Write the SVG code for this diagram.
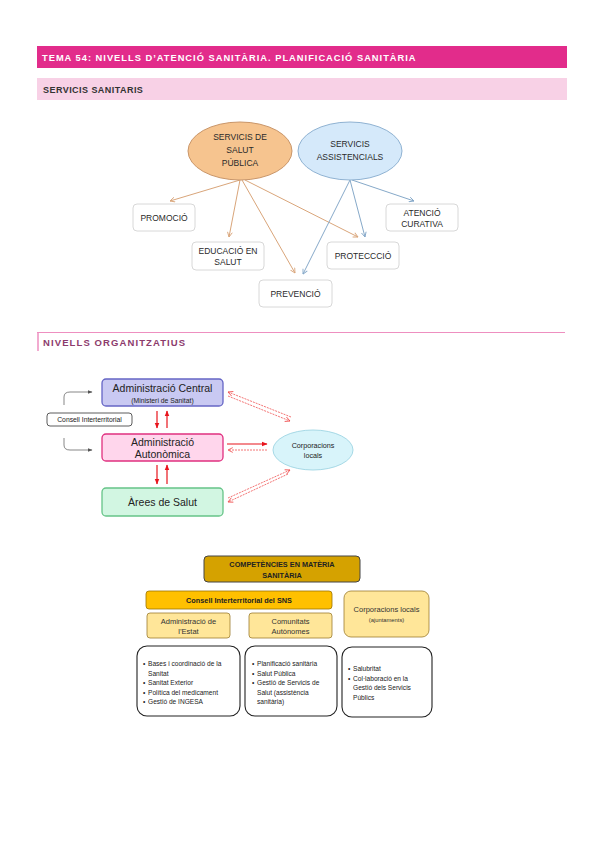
<svg xmlns="http://www.w3.org/2000/svg" width="599" height="848" viewBox="0 0 599 848">
<style>
text{font-family:"Liberation Sans","DejaVu Sans",sans-serif;}
.h1{font-size:9.3px;font-weight:bold;fill:#fff;letter-spacing:1px;}
.h2{font-size:9px;font-weight:bold;fill:#333;letter-spacing:0.45px;}
.h3{font-size:9.5px;fill:#8c3b6c;letter-spacing:1.1px;font-weight:bold;}
.lbl{font-size:8.5px;fill:#2a2a2a;text-anchor:middle;}
.box{fill:#fff;stroke:#d8d8d8;stroke-width:1;}
.oa{stroke:#d9a57a;stroke-width:1;fill:none;marker-end:url(#mo);}
.ba{stroke:#86a9c9;stroke-width:1;fill:none;marker-end:url(#mb);}
.t2{font-size:10.5px;fill:#222;text-anchor:middle;}
.ra{stroke:#e8141c;stroke-width:1.2;fill:none;marker-end:url(#mr);}
.rd{stroke:#f05050;stroke-width:0.8;stroke-dasharray:2 1;fill:none;marker-end:url(#mr2);}
.gc{stroke:#555;stroke-width:0.7;fill:none;marker-end:url(#mg);}
.t3{font-size:6.6px;fill:#222;}
.tb{font-size:7.3px;font-weight:bold;fill:#222;text-anchor:middle;}
.tc{font-size:7.5px;fill:#333;text-anchor:middle;}
.wb{fill:#fff;stroke:#222;stroke-width:1.1;}
</style>
<defs>
<marker id="mo" viewBox="0 0 10 10" refX="9" refY="5" markerWidth="6" markerHeight="6" orient="auto" markerUnits="userSpaceOnUse"><path d="M1,1 L9,5 L1,9" fill="none" stroke="#d9a57a" stroke-width="1.5"/></marker>
<marker id="mb" viewBox="0 0 10 10" refX="9" refY="5" markerWidth="6" markerHeight="6" orient="auto" markerUnits="userSpaceOnUse"><path d="M1,1 L9,5 L1,9" fill="none" stroke="#86a9c9" stroke-width="1.5"/></marker>
<marker id="mr" viewBox="0 0 10 10" refX="9" refY="5" markerWidth="6" markerHeight="6" orient="auto" markerUnits="userSpaceOnUse"><path d="M0,1 L10,5 L0,9 z" fill="#e8141c"/></marker>
<marker id="mr2" viewBox="0 0 10 10" refX="9" refY="5" markerWidth="6" markerHeight="6" orient="auto" markerUnits="userSpaceOnUse"><path d="M1,1 L9,5 L1,9" fill="none" stroke="#f05050" stroke-width="1.4"/></marker>
<marker id="mg" viewBox="0 0 10 10" refX="9" refY="5" markerWidth="5" markerHeight="5" orient="auto" markerUnits="userSpaceOnUse"><path d="M0,1 L10,5 L0,9 z" fill="#555"/></marker>
</defs>
<rect width="599" height="848" fill="#fff"/>

<!-- headers -->
<g id="header1">
<rect x="37" y="46" width="530" height="22" fill="#e22c8b"/>
<text class="h1" x="42" y="60.5">TEMA 54: NIVELLS D’ATENCIÓ SANITÀRIA. PLANIFICACIÓ SANITÀRIA</text>
</g>
<g id="header2">
<rect x="37" y="78" width="530" height="22" fill="#f8d1e6"/>
<text class="h2" x="43" y="92.5">SERVICIS SANITARIS</text>
</g>

<!-- diagram 1 -->
<g id="connectors1">
<line class="oa" x1="240" y1="180" x2="170" y2="201"/>
<line class="oa" x1="240" y1="180" x2="229" y2="237"/>
<line class="oa" x1="242" y1="180" x2="295" y2="273"/>
<line class="oa" x1="245" y1="180" x2="358" y2="237"/>
<line class="ba" x1="350" y1="180" x2="303" y2="274"/>
<line class="ba" x1="350" y1="180" x2="365" y2="237"/>
<line class="ba" x1="352" y1="180" x2="414" y2="201"/>
</g>
<g id="salut-publica">
<ellipse cx="240" cy="151" rx="52" ry="29" fill="#f6c48f" stroke="#c9966a" stroke-width="1"/>
<text class="lbl" x="240" y="140">SERVICIS DE</text>
<text class="lbl" x="240" y="153">SALUT</text>
<text class="lbl" x="240" y="166">PÚBLICA</text>
</g>
<g id="assistencials">
<ellipse cx="350" cy="151" rx="52" ry="29" fill="#d5e9fa" stroke="#8fb2d2" stroke-width="1"/>
<text class="lbl" x="350" y="147">SERVICIS</text>
<text class="lbl" x="350" y="160">ASSISTENCIALS</text>
</g>
<g id="promocio"><rect class="box" x="133" y="204" width="62" height="27" rx="4"/><text class="lbl" x="164" y="220.5">PROMOCIÓ</text></g>
<g id="educacio"><rect class="box" x="192" y="242" width="72" height="28" rx="4"/><text class="lbl" x="228" y="253.5">EDUCACIÓ EN</text><text class="lbl" x="228" y="265">SALUT</text></g>
<g id="prevencio"><rect class="box" x="259" y="280" width="73" height="27" rx="4"/><text class="lbl" x="295.5" y="296.5">PREVENCIÓ</text></g>
<g id="proteccio"><rect class="box" x="327" y="242" width="72" height="27" rx="4"/><text class="lbl" x="363" y="258.5">PROTECCCIÓ</text></g>
<g id="atencio"><rect class="box" x="386" y="204" width="72" height="27" rx="4"/><text class="lbl" x="422" y="215.5">ATENCIÓ</text><text class="lbl" x="422" y="227">CURATIVA</text></g>

<!-- section 2 header -->
<g id="header3">
<line x1="37" y1="332.5" x2="565" y2="332.5" stroke="#ee8fc0" stroke-width="1.2"/>
<line x1="38" y1="332" x2="38" y2="351" stroke="#ee8fc0" stroke-width="1.5"/>
<text class="h3" x="43" y="346">NIVELLS ORGANITZATIUS</text>
</g>

<g id="connectors2">
<line class="ra" x1="157" y1="411" x2="157" y2="428"/>
<line class="ra" x1="167" y1="428" x2="167" y2="411"/>
<line class="ra" x1="157" y1="465" x2="157" y2="484"/>
<line class="ra" x1="167" y1="484" x2="167" y2="465"/>
<line class="rd" x1="228" y1="396" x2="290" y2="421"/>
<line class="rd" x1="291" y1="417" x2="228" y2="392"/>
<line class="ra" x1="227" y1="444" x2="267" y2="444" stroke-width="1"/>
<line class="rd" x1="267" y1="450" x2="228" y2="450" stroke-dasharray="none" stroke="#f8a0a0"/>
<line class="rd" x1="228" y1="498" x2="290" y2="470"/>
<line class="rd" x1="288" y1="474" x2="228" y2="502"/>
<path class="gc" d="M64,405 L64,397 Q64,392 70,392 L92,392"/>
<path class="gc" d="M64,438 L64,445 Q64,450 70,450 L92,450"/>
</g>
<g id="admin-central">
<rect x="102" y="379" width="121" height="27" rx="4" fill="#c9c9f2" stroke="#6565c5" stroke-width="1.3"/>
<text class="t2" x="162.5" y="392">Administració Central</text>
<text x="162.5" y="402.5" font-size="6.8" fill="#222" text-anchor="middle">(Ministeri de Sanitat)</text>
</g>
<g id="admin-autonomica">
<rect x="102" y="434" width="121" height="27" rx="4" fill="#ffd6ec" stroke="#e0307f" stroke-width="1.3"/>
<text class="t2" x="162.5" y="445.5">Administració</text>
<text class="t2" x="162.5" y="458">Autonòmica</text>
</g>
<g id="arees-salut">
<rect x="102" y="488" width="121" height="28" rx="4" fill="#d2f6e2" stroke="#66c488" stroke-width="1.3"/>
<text class="t2" x="162.5" y="506" font-size="11">Àrees de Salut</text>
</g>
<g id="consell">
<rect x="47" y="413" width="85" height="13" rx="3" fill="#fff" stroke="#333" stroke-width="0.8"/>
<text x="89.5" y="422" font-size="6.8" fill="#222" text-anchor="middle">Consell Interterritorial</text>
</g>
<g id="corporacions">
<ellipse cx="313" cy="450" rx="40" ry="20" fill="#d8f4fa" stroke="#a6d9e6" stroke-width="1"/>
<text x="313" y="447.5" font-size="7.2" fill="#222" text-anchor="middle">Corporacions</text>
<text x="313" y="457.5" font-size="7.2" fill="#222" text-anchor="middle">locals</text>
</g>

<!-- section 3 -->
<g id="competencies">
<rect x="204" y="556" width="156" height="26" rx="4" fill="#d5a200" stroke="#444" stroke-width="1"/>
<text class="tb" x="282" y="567">COMPETÈNCIES EN MATÈRIA</text>
<text class="tb" x="282" y="578">SANITÀRIA</text>
</g>
<g id="consell-sns">
<rect x="146" y="591" width="186" height="18" rx="3" fill="#ffc000" stroke="#9c7400" stroke-width="0.8"/>
<text class="tb" x="239" y="603">Consell Interterritorial del SNS</text>
</g>
<g id="estat">
<rect x="147" y="613" width="83" height="25" rx="3" fill="#ffe699" stroke="#9c7c30" stroke-width="0.8"/>
<text class="tc" x="188.5" y="623.5">Administració de</text>
<text class="tc" x="188.5" y="634">l’Estat</text>
</g>
<g id="comunitats">
<rect x="249" y="613" width="83" height="25" rx="3" fill="#ffe699" stroke="#9c7c30" stroke-width="0.8"/>
<text class="tc" x="290.5" y="623.5">Comunitats</text>
<text class="tc" x="290.5" y="634">Autònomes</text>
</g>
<g id="corporacions-locals">
<rect x="344" y="591" width="85" height="46" rx="7" fill="#ffe699" stroke="#9c7c30" stroke-width="0.8"/>
<text class="tc" x="386.5" y="612">Corporacions locals</text>
<text x="386.5" y="622" font-size="5.8" fill="#333" text-anchor="middle">(ajuntaments)</text>
</g>
<g id="box-estat">
<rect class="wb" x="137" y="646" width="103" height="70" rx="10"/>
<text class="t3" x="143" y="666">•</text><text class="t3" x="148" y="666">Bases i coordinació de la</text>
<text class="t3" x="148" y="675.5">Sanitat</text>
<text class="t3" x="143" y="685">•</text><text class="t3" x="148" y="685">Sanitat Exterior</text>
<text class="t3" x="143" y="694.5">•</text><text class="t3" x="148" y="694.5">Política del medicament</text>
<text class="t3" x="143" y="704">•</text><text class="t3" x="148" y="704">Gestió de INGESA</text>
</g>
<g id="box-comunitats">
<rect class="wb" x="245" y="646" width="92" height="70" rx="10"/>
<text class="t3" x="252" y="666">•</text><text class="t3" x="257" y="666">Planificació sanitària</text>
<text class="t3" x="252" y="675.5">•</text><text class="t3" x="257" y="675.5">Salut Pública</text>
<text class="t3" x="252" y="685">•</text><text class="t3" x="257" y="685">Gestió de Servicis de</text>
<text class="t3" x="257" y="694.5">Salut (assistència</text>
<text class="t3" x="257" y="704">sanitària)</text>
</g>
<g id="box-corporacions">
<rect class="wb" x="342" y="647" width="90" height="70" rx="10"/>
<text class="t3" x="348" y="671">•</text><text class="t3" x="353" y="671">Salubritat</text>
<text class="t3" x="348" y="680.5">•</text><text class="t3" x="353" y="680.5">Col·laboració en la</text>
<text class="t3" x="353" y="690">Gestió dels Servicis</text>
<text class="t3" x="353" y="699.5">Públics</text>
</g>
</svg>
